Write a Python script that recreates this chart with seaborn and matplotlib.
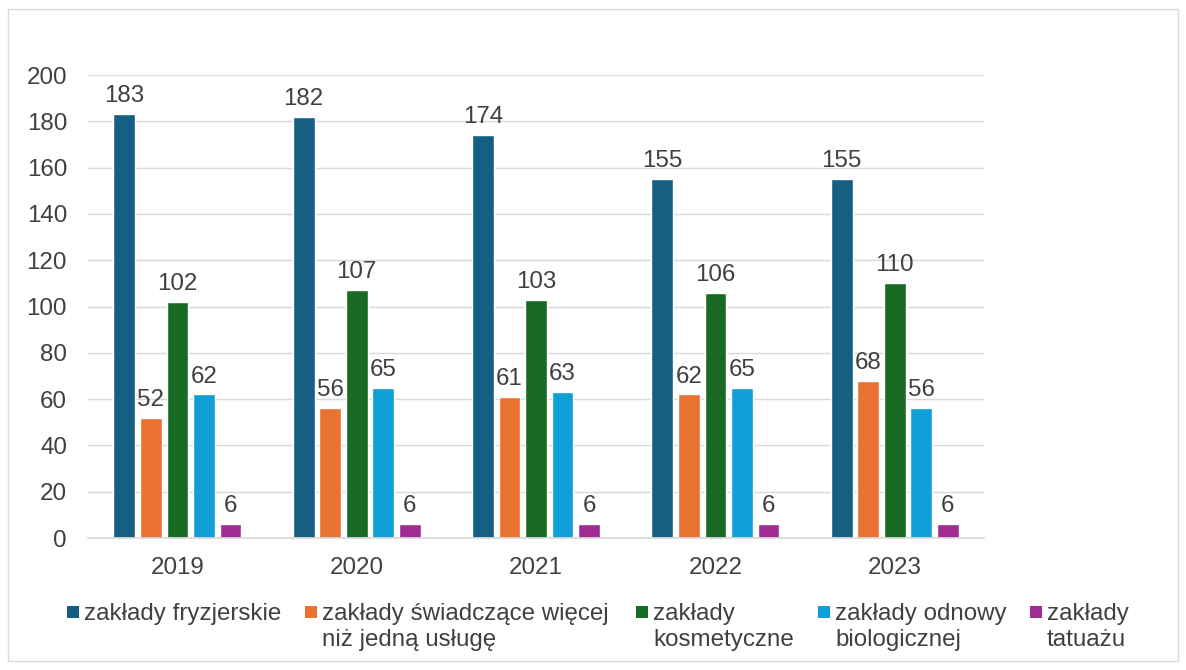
import pandas as pd
import matplotlib.pyplot as plt
import seaborn as sns
from matplotlib.patches import Rectangle

years = ["2019", "2020", "2021", "2022", "2023"]
categories = [
    "zakłady fryzjerskie",
    "zakłady świadczące więcej\nniż jedną usługę",
    "zakłady\nkosmetyczne",
    "zakłady odnowy\nbiologicznej",
    "zakłady\ntatuażu",
]
fryzjerskie = [183, 182, 174, 155, 155]
wiecej_uslug = [52, 56, 61, 62, 68]
kosmetyczne = [102, 107, 103, 106, 110]
odnowy = [62, 65, 63, 65, 56]
tatuazu = [6, 6, 6, 6, 6]
colors = ["#156082", "#E97132", "#196B24", "#0F9ED5", "#A02B93"]

series = [fryzjerskie, wiecej_uslug, kosmetyczne, odnowy, tatuazu]
rows = []
for cat, vals in zip(categories, series):
    for y, v in zip(years, vals):
        rows.append({"rok": y, "kategoria": cat, "liczba": v})
df = pd.DataFrame(rows)

sns.set_theme(style="white")
plt.rcParams["font.family"] = ["Liberation Sans", "DejaVu Sans"]

W, H = 1186, 670
FS = 17.4
fig = plt.figure(figsize=(W / 100, H / 100), dpi=100)
ax = fig.add_axes([0.074, 0.197, 0.756, 0.691])

sns.barplot(data=df, x="rok", y="liczba", hue="kategoria", hue_order=categories,
            palette=colors, saturation=1, width=0.74, gap=0.18, ax=ax, legend=False)

for cont in ax.containers:
    ax.bar_label(cont, fmt="%d", padding=5, fontsize=FS, color="#404040")

ax.set_ylim(0, 200)
ax.set_yticks(range(0, 201, 20))
ax.yaxis.grid(True, color="#d9d9d9", linewidth=1)
ax.set_axisbelow(True)
for s in ["top", "right", "left"]:
    ax.spines[s].set_visible(False)
ax.spines["bottom"].set_color("#d9d9d9")
ax.set_xlabel("")
ax.set_ylabel("")
ax.tick_params(axis="both", labelsize=FS, labelcolor="#404040", length=0)
ax.tick_params(axis="y", pad=15)
ax.tick_params(axis="x", pad=14)
ax.set_xlim(-0.5, 4.5)

# legend drawn by hand so the marker sits on the first text line
legend_x = [67, 305, 636, 818, 1030]
for x, c, lab in zip(legend_x, colors, categories):
    fig.add_artist(Rectangle((x / W, 1 - 618 / H), 12 / W, 12 / H,
                             transform=fig.transFigure, facecolor=c, edgecolor="none"))
    fig.text((x + 17) / W, 1 - 603 / H, lab, ha="left", va="top", fontsize=FS,
             color="#404040", linespacing=1.25)

fig.add_artist(Rectangle((0.007, 0.013), 0.986, 0.973, transform=fig.transFigure,
                         fill=False, edgecolor="#d9d9d9", linewidth=1))

fig.savefig("out.png", dpi=100)
